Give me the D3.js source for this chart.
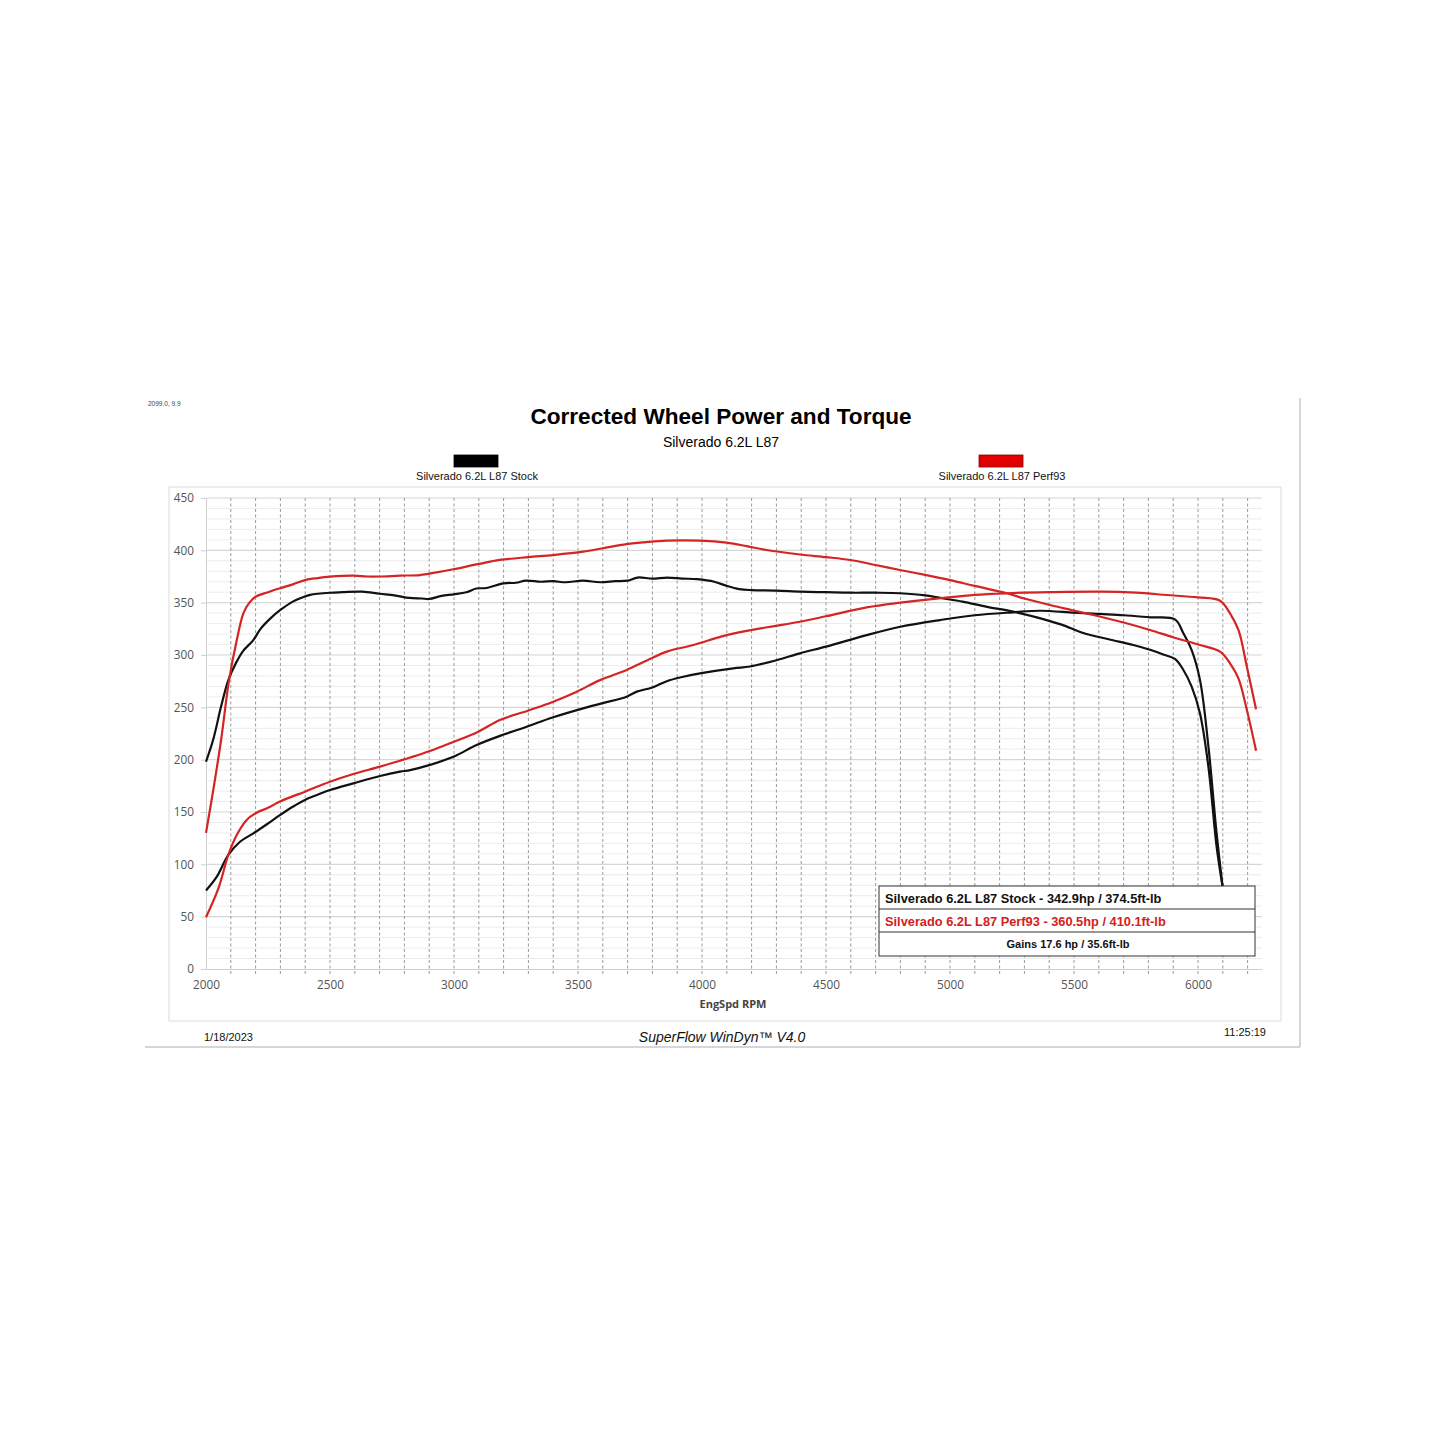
<!DOCTYPE html>
<html><head><meta charset="utf-8">
<script src="https://cdn.jsdelivr.net/npm/d3@7"></script>
<style>body{margin:0;background:#fff}svg{display:block}</style>
</head><body><svg id="c" width="1445" height="1445"></svg>
<script>
// ---- data ----
const stockTqRpm = [2000,2030,2060,2090,2120,2150,2190,2220,2260,2300,2350,2400,2420,2500,2550,2630,2700,2760,2820,2870,2900,2950,3000,3050,3090,3130,3200,3250,3290,3350,3400,3450,3520,3590,3650,3700,3740,3800,3860,3920,3980,4050,4100,4150,4200,4300,4400,4500,4600,4700,4800,4900,4960,5050,5150,5255,5350,5450,5537,5640,5739,5806,5860,5907,5941,5974,6008,6042,6075,6099];
const stockTq    = [198,220,250,276,292,304,314,325,335,343,351,356,357.5,359.5,360,360.5,358.5,357,354.5,354,353.5,356.5,358,360,363.5,364,368.5,369,371,370,370.5,369.5,371,369.5,370.5,371,374,373,374,373,372.5,370,366,363,362,361.5,360.5,360,359.5,359.5,359,357,354.5,351,346,341.4,336,329,321,315,309.5,305,300.5,296.2,285.7,270,244,193,117,79];

const stockHpRpm = [2000,2043,2090,2137,2191,2250,2298,2350,2399,2450,2500,2594,2702,2782,2823,2903,3000,3091,3200,3293,3400,3535,3600,3696,3737,3800,3858,3920,3992,4126,4194,4300,4395,4500,4597,4664,4800,4960,5100,5255,5363,5500,5605,5700,5806,5907,5941,5974,6008,6042,6075,6099];
const stockHp    = [75,88,109,121.6,129.6,139,147,155,161.5,166.5,171,177.4,184.4,188.5,190,195,203,214,224,231.5,240.5,250,254,260.2,265,269,275,279,282.5,287.3,289,295,301.6,308,314.5,319,327,333.4,338,340.8,342.3,340.5,339.2,338,336,334,320.7,304.8,276,212.4,129.6,79];

const perfTqRpm = [2000,2030,2061,2093,2124,2151,2175,2200,2250,2298,2350,2399,2450,2500,2594,2650,2700,2782,2863,2930,2997,3100,3185,3300,3400,3521,3600,3696,3780,3858,3992,4099,4180,4260,4395,4500,4597,4700,4798,4900,5000,5100,5229,5300,5403,5490,5578,5700,5806,5900,6008,6089,6129,6163,6197,6234];
const perfTq    = [130,172,219,276,314,340,350,355.7,360,363.7,367.5,371.6,373.5,374.8,375.8,375,375,375.8,376.4,379,381.9,387,390.8,393.5,395.5,398.7,402,406,408,409.2,409.2,407.3,404,400.3,396,393.5,390.8,386,381.2,376.5,371.6,366,359,354,347.8,343,338.2,331,323.9,317,309.5,303.2,292,277.7,247.4,208.6];

const perfHpRpm = [2000,2050,2090,2124,2164,2204,2250,2298,2399,2500,2594,2702,2782,2823,2900,2984,3100,3185,3300,3400,3495,3589,3696,3780,3858,3965,4099,4250,4395,4500,4664,4800,4960,5100,5229,5400,5605,5750,5874,6000,6089,6129,6163,6197,6234];
const perfHp    = [49.4,77,109,128,142.4,149.3,154,160,169.4,178.9,186.3,193.3,199,202,208,215.6,227,237.9,247,255.4,265,276,285.7,295,303.2,309.5,319,326,331.8,337,345.5,350,354.2,357.5,359,360,360.5,359.5,357.3,355,351.9,339.8,323.9,288.8,248.1];

const xTickLabels = [2000,2500,3000,3500,4000,4500,5000,5500,6000];
const yTickLabels = [0,50,100,150,200,250,300,350,400,450];
const seriesNames = ["Silverado 6.2L L87 Stock","Silverado 6.2L L87 Perf93"];
const statLines = ["Silverado 6.2L L87 Stock - 342.9hp / 374.5ft-lb","Silverado 6.2L L87 Perf93 - 360.5hp / 410.1ft-lb","Gains 17.6 hp / 35.6ft-lb"];

// ---- drawing ----
const svg = d3.select("#c");
const BLACK = "#111", RED = "#d42424";
const F = "'Liberation Sans', Arial, sans-serif";
const TF = "'Open Sans', 'Noto Sans', sans-serif";

const x = d3.scaleLinear().domain([2000, 6258]).range([206, 1262]);
const y = d3.scaleLinear().domain([0, 450]).range([969, 498]);

// outer frame (right + bottom)
svg.append("line").attr("x1",1300).attr("x2",1300).attr("y1",398).attr("y2",1047).attr("stroke","#c8c8c8").attr("stroke-width",1.5);
svg.append("line").attr("x1",145).attr("x2",1300).attr("y1",1047).attr("y2",1047).attr("stroke","#c8c8c8").attr("stroke-width",1.5);
// chart area border
svg.append("rect").attr("x",169).attr("y",487).attr("width",1112).attr("height",534).attr("fill","none").attr("stroke","#dcdcdc").attr("stroke-width",1);

svg.append("text").attr("x",148).attr("y",406).attr("font-family",F).attr("font-size",6.5).attr("fill","#444").text("2099.0, 9.9");
svg.append("text").attr("x",721).attr("y",424).attr("text-anchor","middle").attr("font-family",F).attr("font-weight","bold").attr("font-size",22.6).attr("fill","#000").text("Corrected Wheel Power and Torque");
svg.append("text").attr("x",721).attr("y",447).attr("text-anchor","middle").attr("font-family",F).attr("font-size",14).attr("fill","#000").text("Silverado 6.2L L87");

// legend
const legend = [{cx:476, color:"#000", stroke:"#000"},{cx:1001, color:"#e00000", stroke:"#8a0000"}];
legend.forEach((l,i)=>{
  svg.append("rect").attr("x",l.cx-22).attr("y",455).attr("width",44).attr("height",12).attr("fill",l.color).attr("stroke",l.stroke).attr("stroke-width",0.8);
  svg.append("text").attr("x",l.cx+1).attr("y",480).attr("text-anchor","middle").attr("font-family",F).attr("font-size",11).attr("fill","#111").text(seriesNames[i]);
});

// grid
const g = svg.append("g");
d3.range(10, 451, 10).forEach(v=>{
  const major = v % 50 === 0;
  g.append("line").attr("x1",x(2000)).attr("x2",x(6258)).attr("y1",y(v)).attr("y2",y(v))
   .attr("stroke", major ? "#d6d6d6" : "#ececec").attr("stroke-width", major?1.2:1);
});
d3.range(2100, 6201, 100).forEach(r=>{
  g.append("line").attr("x1",x(r)).attr("x2",x(r)).attr("y1",y(450)).attr("y2",y(0)+6)
   .attr("stroke","#9a9a9a").attr("stroke-width",1).attr("stroke-dasharray","3,2.5");
});

// axes
const xAxis = d3.axisBottom(x).tickValues(xTickLabels).tickSize(0).tickPadding(12).tickFormat(d3.format("d"));
const xa = svg.append("g").attr("transform",`translate(0,${y(0)})`).call(xAxis);
xa.select(".domain").attr("stroke","#cfcfcf");
xa.selectAll("text").attr("font-family",TF).attr("font-size",11.8).attr("fill","#555");
const yAxis = d3.axisLeft(y).tickValues(yTickLabels).tickSize(5).tickPadding(7);
const ya = svg.append("g").attr("transform",`translate(${x(2000)},0)`).call(yAxis);
ya.select(".domain").attr("stroke","#cfcfcf");
ya.selectAll("line").attr("stroke","#cfcfcf");
ya.selectAll("text").attr("font-family",TF).attr("font-size",11.8).attr("fill","#555");

svg.append("text").attr("x",733).attr("y",1008).attr("text-anchor","middle").attr("font-family",TF).attr("font-weight","bold").attr("font-size",11).attr("fill","#444").text("EngSpd RPM");

// curves
const line = d3.line().x(d=>x(d[0])).y(d=>y(d[1])).curve(d3.curveCatmullRom.alpha(0.5));
const series = [
  [stockHpRpm, stockHp, BLACK],
  [stockTqRpm, stockTq, BLACK],
  [perfHpRpm, perfHp, RED],
  [perfTqRpm, perfTq, RED]
];
series.forEach(([r,v,c])=>{
  svg.append("path").datum(r.map((rr,i)=>[rr,v[i]])).attr("d",line)
    .attr("fill","none").attr("stroke",c).attr("stroke-width",2.2).attr("stroke-linejoin","round");
});

// stats box
const bx=879, by=886, bw=376;
svg.append("rect").attr("x",bx).attr("y",by).attr("width",bw).attr("height",70).attr("fill","#fff").attr("stroke","#333").attr("stroke-width",1);
svg.append("line").attr("x1",bx).attr("x2",bx+bw).attr("y1",by+23).attr("y2",by+23).attr("stroke","#333");
svg.append("line").attr("x1",bx).attr("x2",bx+bw).attr("y1",by+46).attr("y2",by+46).attr("stroke","#333");
svg.append("text").attr("x",885).attr("y",903).attr("font-family",F).attr("font-weight","bold").attr("font-size",12.8).attr("fill","#111").text(statLines[0]);
svg.append("text").attr("x",885).attr("y",926).attr("font-family",F).attr("font-weight","bold").attr("font-size",12.8).attr("fill","#d42020").text(statLines[1]);
svg.append("text").attr("x",1068).attr("y",948).attr("text-anchor","middle").attr("font-family",F).attr("font-weight","bold").attr("font-size",11).attr("fill","#111").text(statLines[2]);

// footer
svg.append("text").attr("x",204).attr("y",1041).attr("font-family",F).attr("font-size",11).attr("fill","#111").text("1/18/2023");
svg.append("text").attr("x",722).attr("y",1042).attr("text-anchor","middle").attr("font-family",F).attr("font-style","italic").attr("font-size",14).attr("fill","#111").text("SuperFlow WinDyn™ V4.0");
svg.append("text").attr("x",1266).attr("y",1036).attr("text-anchor","end").attr("font-family",F).attr("font-size",11).attr("fill","#111").text("11:25:19");
</script></body></html>
